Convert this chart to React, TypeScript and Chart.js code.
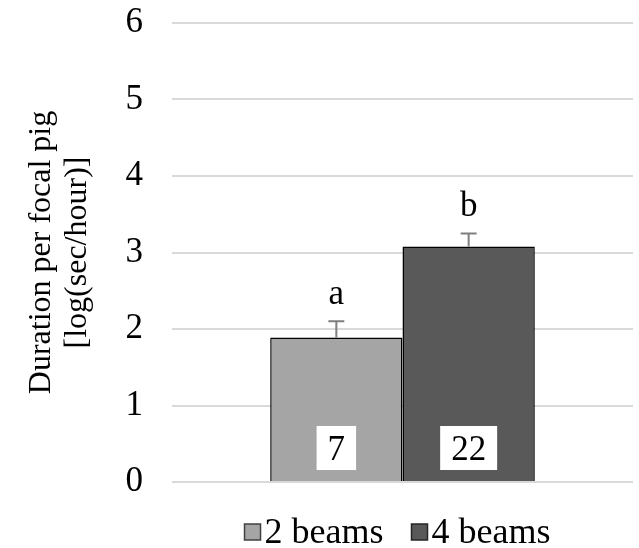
import React, { useEffect, useRef } from "react";
import { Chart, registerables } from "chart.js";

Chart.register(...registerables);

const categories = [""];
const seriesNames = ["2 beams", "4 beams"];
const seriesValues = [1.89, 3.08];
const errorUpper = [0.21, 0.17];
const sigLetters = ["a", "b"];
const sampleSizes = ["7", "22"];
const seriesColors = ["#a5a5a5", "#595959"];
const legendBorders = ["#404040", "#262626"];
const yTicks = [0, 1, 2, 3, 4, 5, 6];

const FONT = "'Liberation Serif', 'Times New Roman', serif";

const annotatePlugin = {
  id: "annotate",
  afterDatasetsDraw(chart: any) {
    const ctx = chart.ctx;
    const yScale = chart.scales.y;
    ctx.save();
    chart.data.datasets.forEach((ds: any, i: number) => {
      const meta = chart.getDatasetMeta(i);
      const bar = meta.data[0];
      const x = bar.x;
      const v = ds.data[0];
      const top = yScale.getPixelForValue(v + errorUpper[i]);
      const base = yScale.getPixelForValue(v);
      // error bar
      ctx.strokeStyle = "#7f7f7f";
      ctx.lineWidth = 2;
      ctx.beginPath();
      ctx.moveTo(x, base);
      ctx.lineTo(x, top);
      ctx.moveTo(x - 8, top);
      ctx.lineTo(x + 8, top);
      ctx.stroke();
      // significance letter
      ctx.fillStyle = "#000";
      ctx.font = `35px ${FONT}`;
      ctx.textAlign = "center";
      ctx.textBaseline = "alphabetic";
      ctx.fillText(sigLetters[i], x, top - 17);
      // sample size box
      const label = sampleSizes[i];
      const w = ctx.measureText(label).width + 22;
      const h = 44;
      const bottom = yScale.getPixelForValue(0) - 12;
      ctx.fillStyle = "#fff";
      ctx.fillRect(x - w / 2, bottom - h, w, h);
      ctx.fillStyle = "#000";
      ctx.fillText(label, x, bottom - 10);
    });
    ctx.restore();
  },
};

const legendPlugin = {
  id: "customLegend",
  afterDraw(chart: any) {
    const ctx = chart.ctx;
    const area = chart.chartArea;
    ctx.save();
    ctx.font = `36px ${FONT}`;
    ctx.textBaseline = "alphabetic";
    ctx.textAlign = "left";
    const box = 16;
    const gapBoxText = 4;
    const gapItems = 28;
    const items = chart.data.datasets.map((ds: any) => ({
      text: ds.label,
      color: ds.backgroundColor,
      w: ctx.measureText(ds.label).width,
    }));
    const total = items.reduce(
      (s: number, it: any, i: number) => s + box + gapBoxText + it.w + (i > 0 ? gapItems : 0),
      0
    );
    let x = (area.left + area.right) / 2 - 5 - total / 2;
    const baseline = 543;
    items.forEach((it: any, i: number) => {
      ctx.fillStyle = it.color;
      ctx.fillRect(x, baseline - 19, box, box);
      ctx.strokeStyle = legendBorders[i];
      ctx.lineWidth = 1.5;
      ctx.strokeRect(x, baseline - 19, box, box);
      x += box + gapBoxText;
      ctx.fillStyle = "#000";
      ctx.fillText(it.text, x, baseline);
      x += it.w + gapItems;
    });
    ctx.restore();
  },
};

export default function App() {
  const ref = useRef<HTMLCanvasElement | null>(null);
  useEffect(() => {
    document.body.style.margin = "0";
    const chart = new Chart(ref.current as HTMLCanvasElement, {
      type: "bar",
      data: {
        labels: categories,
        datasets: seriesNames.map((name, i) => ({
          label: name,
          data: [seriesValues[i]],
          backgroundColor: seriesColors[i],
          borderColor: "#000",
          borderWidth: 1.5,
          categoryPercentage: 0.574,
          barPercentage: 1.0,
        })),
      },
      options: {
        animation: false,
        responsive: false,
        maintainAspectRatio: false,
        layout: { padding: { top: 23, right: 6, bottom: 66, left: 0 } },
        plugins: {
          legend: { display: false },
          tooltip: { enabled: false },
        },
        scales: {
          x: {
            display: false,
          },
          y: {
            min: 0,
            max: 6,
            afterFit: (s: any) => {
              s.width = 172;
              s.paddingTop = 0;
              s.paddingBottom = 0;
            },
            afterBuildTicks: (s: any) => {
              s.ticks = yTicks.map((v) => ({ value: v }));
            },
            ticks: {
              font: { family: FONT, size: 35 },
              color: "#000",
              padding: 29,
            },
            grid: { color: "#d9d9d9", lineWidth: 2, drawTicks: false },
            border: { display: false },
            title: {
              display: true,
              text: ["Duration per focal pig", "[log(sec/hour)]"],
              font: { family: FONT, size: 32, lineHeight: 1.125 },
              color: "#000",
              padding: { top: 24, bottom: 0 },
            },
          },
        },
      },
      plugins: [annotatePlugin, legendPlugin],
    });
    return () => chart.destroy();
  }, []);
  return (
    <div style={{ width: 639, height: 548 }}>
      <canvas ref={ref} width={639} height={548} />
    </div>
  );
}
